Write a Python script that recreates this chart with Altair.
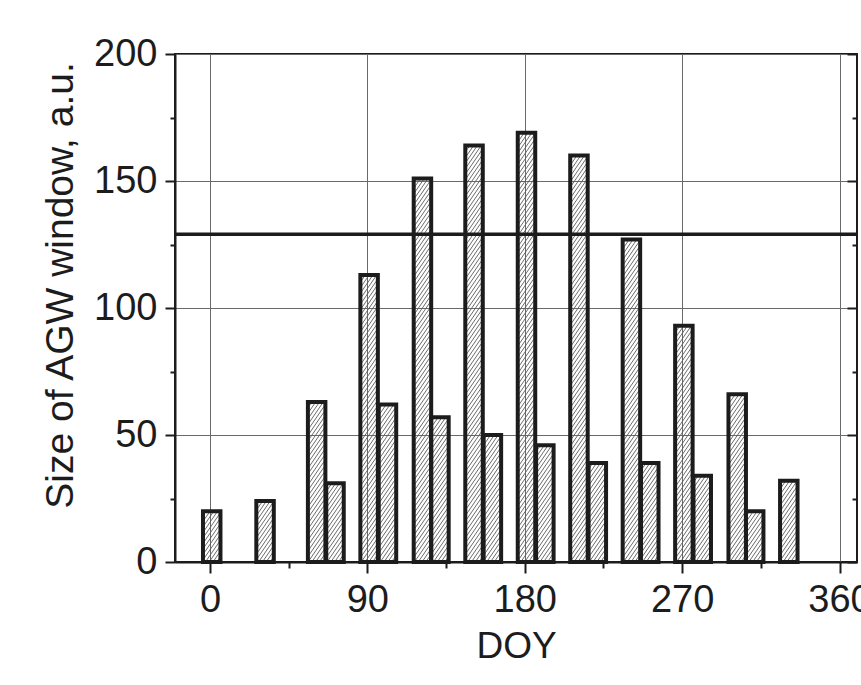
import altair as alt
import numpy as np
import pandas as pd

# Window size per month: first bar of each pair
doy_a = [1, 31.5, 61, 91, 121.5, 151, 181, 211, 241, 271, 301.5, 331]
size_a = [20, 24, 63, 113, 151, 164, 169, 160, 127, 93, 66, 32]
# Second bar of each pair (March to November)
doy_b = [71.5, 101.5, 131.5, 161.5, 191.5, 221.5, 251.5, 281.5, 311.5]
size_b = [31, 62, 57, 50, 46, 39, 39, 34, 20]
threshold = [129]

x_ticks = list(range(0, 361, 45))
y_ticks = list(range(0, 201, 25))

X_MIN, X_MAX = -20, 370
Y_MIN, Y_MAX = 0, 200
W, H = 682, 508
HALF = 5.0  # half bar width in DOY units

FONT = "Liberation Sans"
INK = "#1c1c1c"

bars = pd.DataFrame({
    "x0": [d - HALF for d in doy_a] + [d - HALF for d in doy_b],
    "x1": [d + HALF for d in doy_a] + [d + HALF for d in doy_b],
    "top": size_a + size_b,
})
bars["base"] = 0


def hatch(frame, step=3.8, slope=1.45):
    """Diagonal '/' hatch segments clipped to each bar's rectangle."""
    kx = W / (X_MAX - X_MIN)
    ky = H / (Y_MAX - Y_MIN)
    rows = []
    for _, b in frame.iterrows():
        px0 = (b.x0 - X_MIN) * kx
        px1 = (b.x1 - X_MIN) * kx
        ph = b.top * ky
        run = ph / slope
        c = np.floor((px0 - run) / step) * step
        while c < px1:
            xa, xb = max(px0, c), min(px1, c + run)
            if xb > xa:
                rows.append({
                    "hx": xa / kx + X_MIN, "hx2": xb / kx + X_MIN,
                    "hy": slope * (xa - c) / ky, "hy2": slope * (xb - c) / ky,
                })
            c += step
    return pd.DataFrame(rows)


hatch_df = hatch(bars)

xscale = alt.Scale(domain=[X_MIN, X_MAX], nice=False, zero=False)
yscale = alt.Scale(domain=[Y_MIN, Y_MAX], nice=False)

major_x = "datum.value % 90 === 0"
major_y = "datum.value % 50 === 0"

x_axis = alt.Axis(
    values=x_ticks,
    labelExpr=f"{major_x} ? datum.label : ''",
    tickSize={"condition": {"test": major_x, "value": 11}, "value": 6},
    gridOpacity={"condition": {"test": major_x, "value": 1}, "value": 0},
    labelOverlap=False, labelFlush=False,
    labelPadding=8, titlePadding=9, title="DOY",
)
y_axis = alt.Axis(
    values=y_ticks, orient="left",
    labelExpr=f"{major_y} ? datum.label : ''",
    tickSize={"condition": {"test": major_y, "value": 10}, "value": 5},
    gridOpacity={"condition": {"test": major_y, "value": 1}, "value": 0},
    labelOverlap=False, labelFlush=False,
    labelPadding=8, titlePadding=13, titleY=231, titleFontSize=39,
    title="Size of AGW window, a.u.",
)
# inward ticks along the right edge of the frame
y_axis_right = alt.Axis(
    values=y_ticks, orient="left", offset=-W,
    labels=False, domain=False, grid=False, title="",
    tickSize={"condition": {"test": major_y, "value": 10}, "value": 5},
)

hatch_layer = alt.Chart(hatch_df).mark_rule(
    color="#5a5a5a", strokeWidth=0.9
).encode(
    x=alt.X("hx:Q", scale=xscale, axis=x_axis),
    x2="hx2:Q",
    y=alt.Y("hy:Q", scale=yscale, axis=y_axis),
    y2="hy2:Q",
)

bar_layer = alt.Chart(bars).mark_rect(
    fill="transparent", stroke=INK, strokeWidth=4
).encode(
    x=alt.X("x0:Q", scale=xscale),
    x2="x1:Q",
    y=alt.Y("top:Q", scale=yscale, axis=None),
    y2="base:Q",
)

line_layer = alt.Chart(pd.DataFrame({"level": threshold})).mark_rule(
    color=INK, strokeWidth=3.5
).encode(
    y=alt.Y("level:Q", scale=yscale, axis=y_axis_right),
)

chart = alt.layer(hatch_layer, bar_layer, line_layer).resolve_axis(
    y="independent"
).properties(
    width=W, height=H,
    autosize=alt.AutoSizeParams(type="none"),
    padding={"left": 175, "top": 54, "right": 4, "bottom": 685 - 54 - H},
    background="white",
).configure_view(
    stroke=INK, strokeWidth=2
).configure_axis(
    labelFont=FONT, titleFont=FONT,
    labelFontSize=38, titleFontSize=37,
    labelColor=INK, titleColor=INK, titleFontWeight="normal",
    tickColor=INK, tickWidth=2, domainColor=INK, domainWidth=2,
    gridColor="#6a6a6a", gridWidth=1,
)

chart.save("out.html", embed_options={"renderer": "svg", "actions": False})
